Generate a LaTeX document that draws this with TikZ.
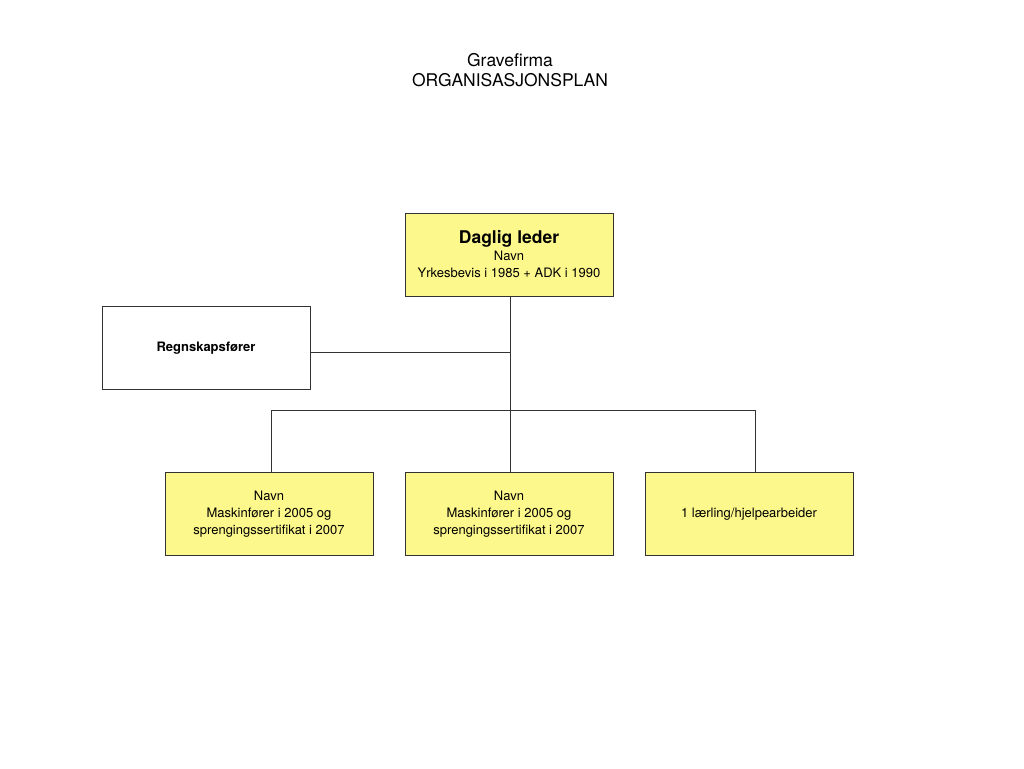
\documentclass[tikz,border=0pt]{standalone}
\usepackage{fontspec}
\setmainfont{TeX Gyre Heros}
\definecolor{boxyellow}{RGB}{253,248,140}

\begin{document}
\begin{tikzpicture}[x=1pt,y=-1pt,
  post/.style={draw=black!80,line width=1pt,minimum width=208pt,minimum height=83pt,
    inner sep=0pt,align=center,font=\fontsize{13}{17}\selectfont},
  yellowpost/.style={post,fill=boxyellow},
  line/.style={draw=black!80,line width=1pt}]
\fill[white] (0,0) rectangle (1024,768);
\useasboundingbox (0,0) rectangle (1024,768);
% title
\node[font=\fontsize{17.5}{20}\selectfont,align=center] (title) at (510,70)
  {Gravefirma\\ORGANISASJONSPLAN};
% boxes
\node[yellowpost] (leder) at (509,254.5)
  {{\fontsize{17.5}{19}\selectfont\bfseries Daglig leder}\\Navn\\Yrkesbevis i 1985 + ADK i 1990};
\node[post,fill=white,font=\fontsize{13}{17}\selectfont\bfseries] (regnskap) at (206,347.75)
  {Regnskapsfører};
\node[yellowpost] (maskinA) at (269,513.75)
  {Navn\\Maskinfører i 2005 og\\sprengingssertifikat i 2007};
\node[yellowpost] (maskinB) at (509,513.75)
  {Navn\\Maskinfører i 2005 og\\sprengingssertifikat i 2007};
\node[yellowpost] (laerling) at (749,513.75)
  {1 lærling/hjelpearbeider};
% lines
\coordinate (bus) at (510,410);
\draw[line] ([xshift=1pt]leder.south) -- ([xshift=1pt]maskinB.north);
\draw[line] ([yshift=-5pt]regnskap.east) -- ([yshift=-5pt]regnskap.east -| bus);
\draw[line] ([xshift=2pt]maskinA.north) -- ([xshift=2pt]maskinA.north |- bus)
  -- ([xshift=6pt]laerling.north |- bus) -- ([xshift=6pt]laerling.north);
\end{tikzpicture}
\end{document}
